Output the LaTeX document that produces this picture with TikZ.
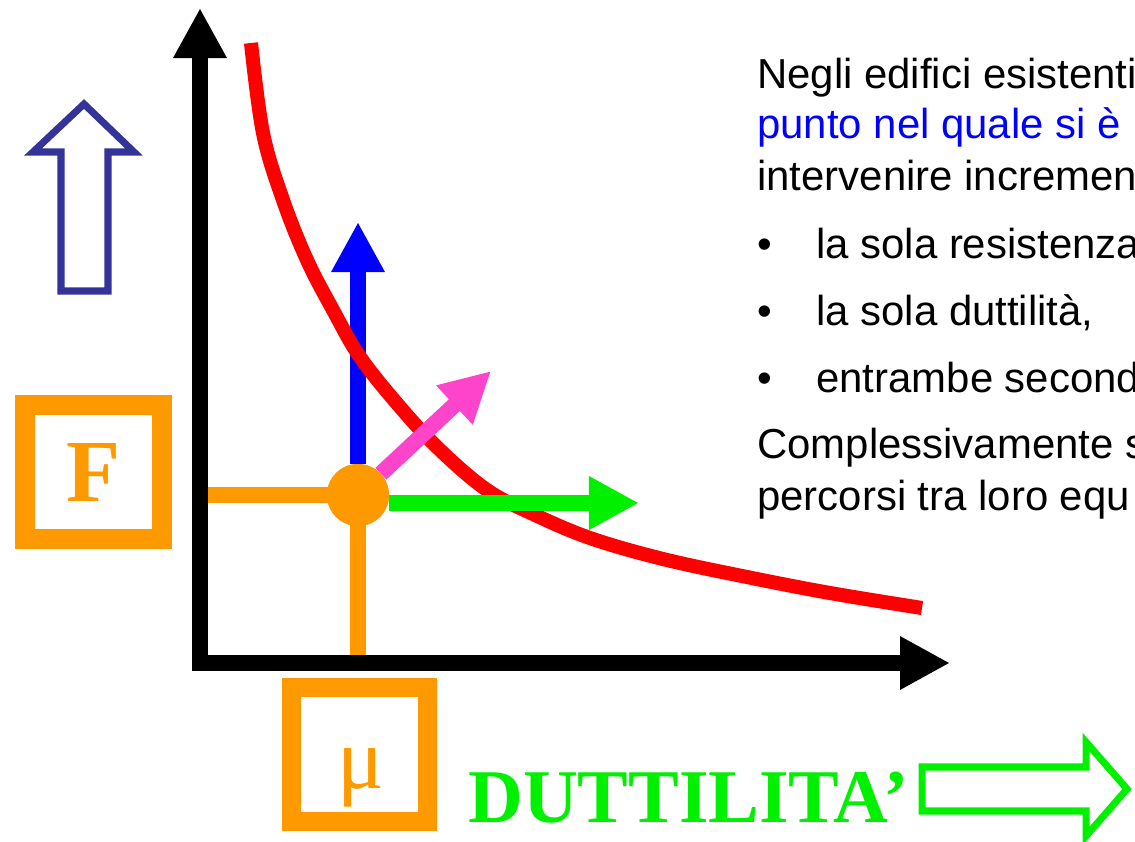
\documentclass[tikz,border=0pt]{standalone}
\usepackage{fontspec}
\setmainfont{Liberation Sans}
\newfontfamily\timesfont{Liberation Serif}
\usepackage{tikz}
\usetikzlibrary{arrows.meta, positioning}
\definecolor{curvered}{HTML}{FF0000}
\definecolor{pointorange}{HTML}{FF9900}
\definecolor{strengthblue}{HTML}{0000FF}
\definecolor{ductgreen}{HTML}{00F000}
\definecolor{mixpink}{HTML}{FF44CC}
\definecolor{navyoutline}{HTML}{333399}
\tikzset{
  bigtip/.tip={Triangle[length=1.25cm, width=1.25cm]},
  body/.style={font=\fontsize{29.8}{36}\selectfont, text=black, anchor=base west, inner sep=0pt},
  axis/.style={{bigtip}-{bigtip}, line width=10.7pt, line join=miter},
  push/.style={-{bigtip}, line width=11.4pt, color=#1},
  guide/.style={draw=pointorange, line width=10.7pt},
  framebox/.style={draw=pointorange, line width=13.9pt, inner sep=0pt},
  hollow/.style={draw=#1, line width=5pt, line join=miter},
}

\begin{document}
\begin{tikzpicture}[x=0.025cm, y=-0.025cm,
  curve/.style={color=curvered, line width=10pt, line cap=butt}]
  \useasboundingbox (0,0) rectangle (1135,841);
  \clip (0,0) rectangle (1135,841);
  % axes and working point
  \coordinate (origin) at (200,663);
  \coordinate (ytop) at (200,8);
  \coordinate (xend) at (950,663);
  \node[circle, fill=pointorange, minimum size=1.55cm, inner sep=0pt] (pt) at (358,495) {};
  \draw[guide] (pt.center) -- (pt.center -| origin);
  \draw[guide] (pt.center) -- (pt.center |- origin);
  \draw[axis] (ytop) -- (origin) -- (xend);
  % three ways out
  \coordinate (rtip) at (358,222);
  \coordinate (mtip) at (491,371);
  \coordinate (dtip) at (639,503);
  \draw[push=strengthblue] (pt) -- (rtip);
  \draw[curve] plot[smooth, tension=0.6] coordinates {(251,43) (263,133) (283,200) (307,260) (333,310) (360,357) (400,407) (440,450) (487,490) (533,514) (590,538) (663,559) (747,577) (830,593) (922,608)};
  \draw[push=mixpink] (pt) -- (mtip);
  \draw[push=ductgreen] (pt.east |- dtip) -- (dtip);
  \node[circle, fill=pointorange, minimum size=1.55cm, inner sep=0pt] at (pt) {};
  % labels of the axes
  \node[framebox, minimum width=3.425cm, minimum height=3.35cm,
        font=\timesfont\bfseries\fontsize{63}{63}\selectfont, text=pointorange] (fbox) at (93.5,472) {F};
  \node[framebox, minimum width=3.4cm, minimum height=3.35cm] (mubox) at (359.5,754.5) {};
  \node[font=\timesfont\fontsize{62}{62}\selectfont, text=pointorange, anchor=base, inner sep=0pt] (mu) at (361,788) {μ};
  \node[font=\timesfont\bfseries\fontsize{54}{54}\selectfont, text=ductgreen, anchor=base west, inner sep=0pt] (duct) at (468,822) {DUTTILITA’};
  \draw[hollow=ductgreen] (922,767) -- (1086,767) -- (1086,742) -- (1127,789) -- (1086,836) -- (1086,811) -- (922,811) -- cycle;
  \draw[hollow=navyoutline] (84,104) -- (134,152) -- (108,152) -- (108,291) -- (61,291) -- (61,152) -- (33,152) -- cycle;
  % text on the right
  \node[body] (l1) at (757,88) {Negli edifici esistenti};
  \node[body, text=strengthblue] (l2) at (757,138) {punto nel quale si è};
  \node[body] (l3) at (757,190) {intervenire incremen};
  \foreach \i/\y/\t in {1/258/la sola resistenza, 2/325/{la sola duttilità,}, 3/392/entrambe second} {
    \node[body] (dot\i) at (757,\y) {•};
    \node[body] (b\i) at (816,\y) {\t};
  }
  \node[body] (l4) at (757,458) {Complessivamente s};
  \node[body] (l5) at (757,510) {percorsi tra loro equ};
\end{tikzpicture}
\end{document}
